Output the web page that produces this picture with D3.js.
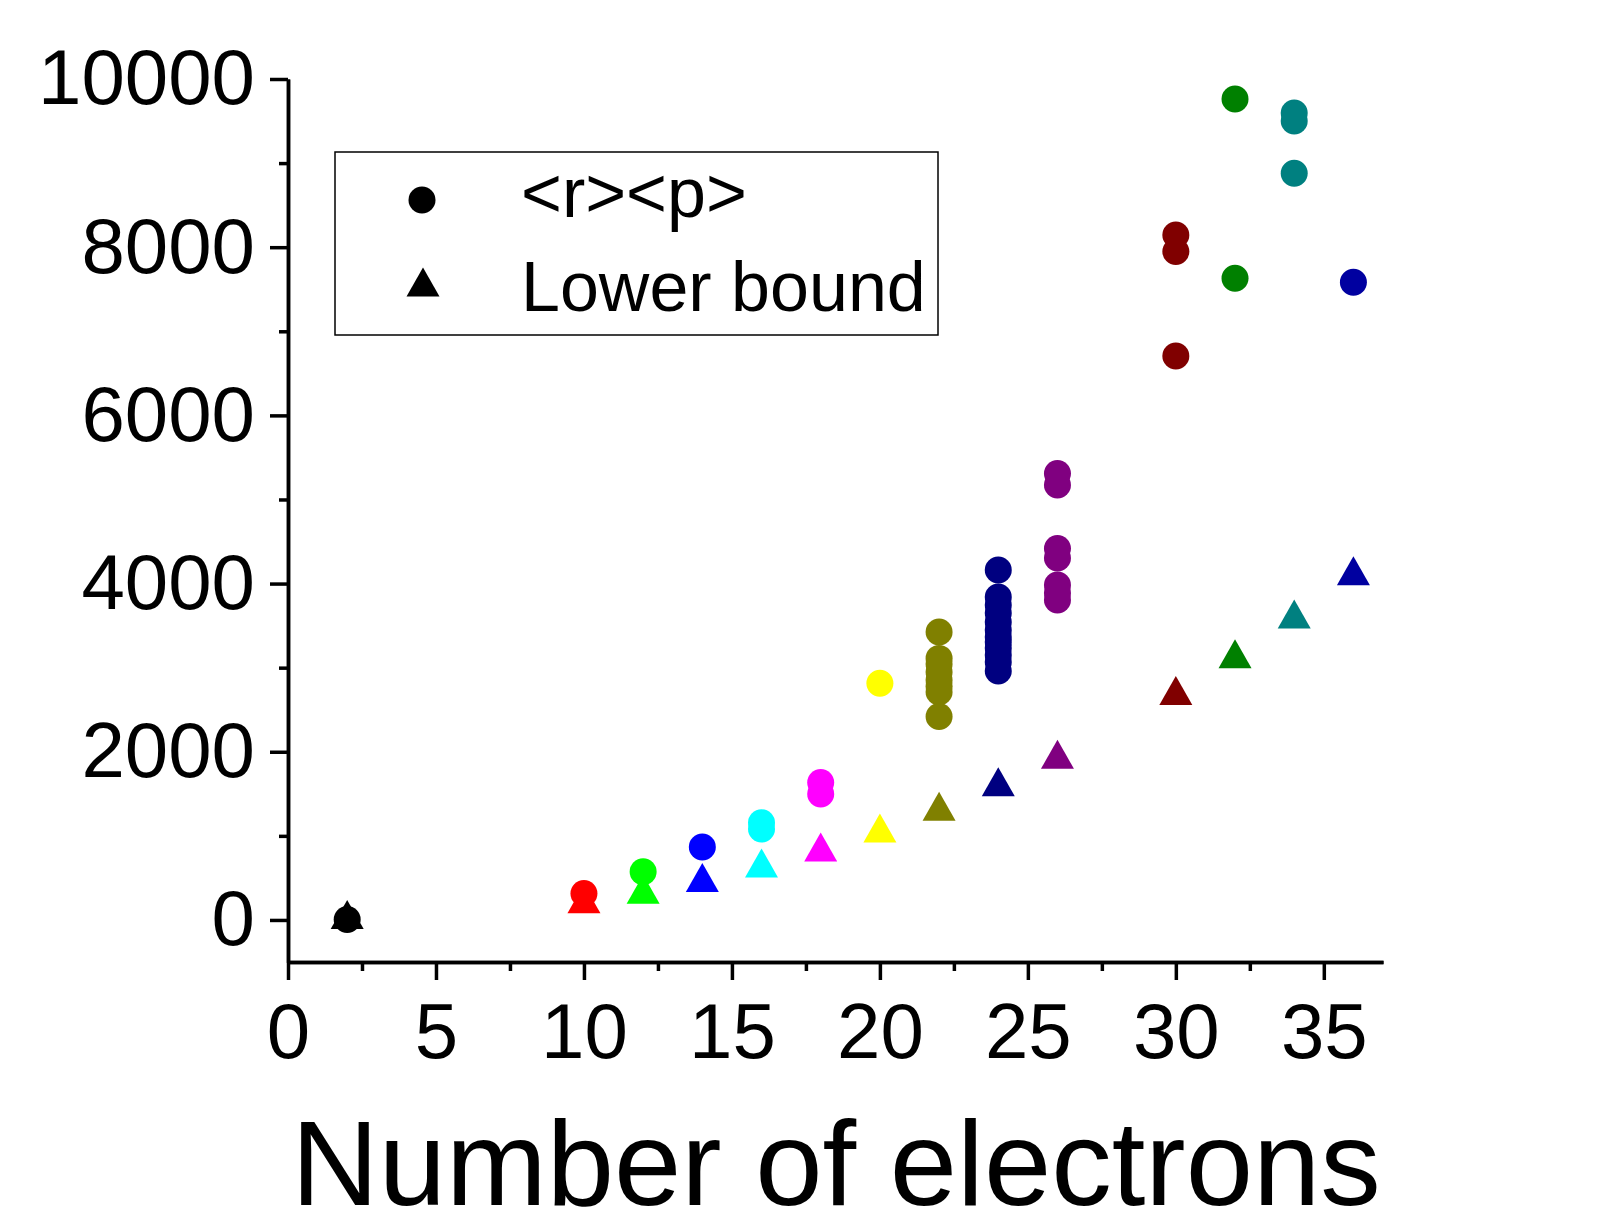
<!DOCTYPE html>
<html>
<head>
<meta charset="utf-8">
<script src="https://cdn.jsdelivr.net/npm/d3@7"></script>
<style>
  body { margin: 0; background: #fff; }
  text { font-family: "Liberation Sans", Arial, sans-serif; fill: #000; }
</style>
</head>
<body>
<div class="chart"></div>
<script>
// number of electrons for each system, and the colour used for it
var systems = [2, 10, 12, 14, 16, 18, 20, 22, 24, 26, 30, 32, 34, 36];
var systemColors = ['#000000', '#ff0000', '#00ff00', '#0000ff', '#00ffff', '#ff00ff', '#ffff00',
    '#808000', '#000080', '#800080', '#800000', '#008000', '#008080', '#0000a0'];

// <r><p> values (circles), several per system
var rpElectrons = [2, 10, 12, 14, 16, 16, 18, 18, 20,
    22, 22, 22, 22, 22, 22, 22, 22,
    24, 24, 24, 24, 24, 24, 24, 24, 24, 24, 24, 24,
    26, 26, 26, 26, 26, 26, 26,
    30, 30, 30, 32, 32, 34, 34, 34, 36];
var rpValues = [5, 315, 573, 868, 1156, 1082, 1635, 1498, 2815,
    3424, 3110, 3044, 2949, 2854, 2780, 2711, 2420,
    4162, 3841, 3746, 3650, 3543, 3448, 3365, 3306, 3234, 3151, 3068, 2961,
    5309, 5172, 4417, 4304, 3983, 3888, 3805,
    8145, 7949, 6706, 9762, 7630, 9596, 9501, 8879, 7583];

// lower bound values (triangles), one per system
var lowerElectrons = [2, 10, 12, 14, 16, 18, 20, 22, 24, 26, 30, 32, 34, 36];
var lowerValues = [65, 253, 365, 505, 678, 868, 1094, 1352, 1643, 1970, 2729, 3165, 3639, 4152];

var xMajorTicks = [0, 5, 10, 15, 20, 25, 30, 35];
var xMinorTicks = [2.5, 7.5, 12.5, 17.5, 22.5, 27.5, 32.5];
var yMajorTicks = [0, 2000, 4000, 6000, 8000, 10000];
var yMinorTicks = [1000, 3000, 5000, 7000, 9000];

var width = 1608;
var height = 1230;
var radius = 13.5;
var triW = 33, triH = 29;

var colorScale = d3.scaleOrdinal().domain(systems).range(systemColors);

var xScale = d3.scaleLinear().domain([0, 37]).range([288, 1383]);
var yScale = d3.scaleLinear().domain([-500, 10000]).range([962, 79]);

var svg = d3.select('.chart').append('svg')
    .attr('width', width)
    .attr('height', height)
    .style('background', '#fff');

function trianglePath(cx, cy) {
    return 'M' + cx + ',' + (cy - triH / 2) +
        'L' + (cx + triW / 2) + ',' + (cy + triH / 2) +
        'L' + (cx - triW / 2) + ',' + (cy + triH / 2) + 'Z';
}

function styleAxis(g, fontSize) {
    g.selectAll('.domain').attr('stroke', '#000').attr('stroke-width', 3.5);
    g.selectAll('.tick line').attr('stroke', '#000').attr('stroke-width', 3.5);
    g.selectAll('.tick text')
        .style('font-family', '"Liberation Sans", Arial, sans-serif')
        .style('font-size', fontSize + 'px')
        .attr('fill', '#000');
}

// minor ticks first, then major axes with labels
svg.append('g')
    .attr('transform', `translate(0,${yScale(-500)})`)
    .call(d3.axisBottom(xScale).tickValues(xMinorTicks).tickSize(9).tickSizeOuter(0).tickFormat(''))
    .call(g => styleAxis(g, 78));

svg.append('g')
    .attr('transform', `translate(${xScale(0)},0)`)
    .call(d3.axisLeft(yScale).tickValues(yMinorTicks).tickSize(9).tickSizeOuter(0).tickFormat(''))
    .call(g => styleAxis(g, 78));

svg.append('g')
    .attr('class', 'axis axis--x')
    .attr('transform', `translate(0,${yScale(-500)})`)
    .call(d3.axisBottom(xScale).tickValues(xMajorTicks).tickSize(18).tickSizeOuter(0).tickPadding(23).tickFormat(d3.format('d')))
    .call(g => styleAxis(g, 78));

svg.append('g')
    .attr('class', 'axis axis--y')
    .attr('transform', `translate(${xScale(0)},0)`)
    .call(d3.axisLeft(yScale).tickValues(yMajorTicks).tickSize(18).tickSizeOuter(0).tickPadding(15).tickFormat(d3.format('d')))
    .call(g => styleAxis(g, 78));

// lower bound triangles
svg.append('g').selectAll('path')
    .data(lowerElectrons.map((n, i) => ({n: n, v: lowerValues[i]})))
    .enter().append('path')
    .attr('d', d => trianglePath(xScale(d.n), yScale(d.v)))
    .attr('fill', d => colorScale(d.n));

// <r><p> circles
svg.append('g').selectAll('circle')
    .data(rpElectrons.map((n, i) => ({n: n, v: rpValues[i]})))
    .enter().append('circle')
    .attr('cx', d => xScale(d.n))
    .attr('cy', d => yScale(d.v))
    .attr('r', radius)
    .attr('fill', d => colorScale(d.n));

// legend
var legend = svg.append('g').attr('class', 'legend');
legend.append('rect')
    .attr('x', 335).attr('y', 152)
    .attr('width', 603).attr('height', 183)
    .attr('fill', 'none').attr('stroke', '#000').attr('stroke-width', 1.5);
legend.append('circle').attr('cx', 422).attr('cy', 200).attr('r', radius).attr('fill', '#000');
legend.append('path').attr('d', trianglePath(423, 282)).attr('fill', '#000');
legend.append('text').attr('x', 521).attr('y', 217).style('font-size', '70px').text('<r><p>');
legend.append('text').attr('x', 521).attr('y', 311).style('font-size', '70px').text('Lower bound');

// x axis title
svg.append('text')
    .attr('x', 836).attr('y', 1205)
    .attr('text-anchor', 'middle')
    .style('font-size', '121px')
    .text('Number of electrons');
</script>
</body>
</html>
